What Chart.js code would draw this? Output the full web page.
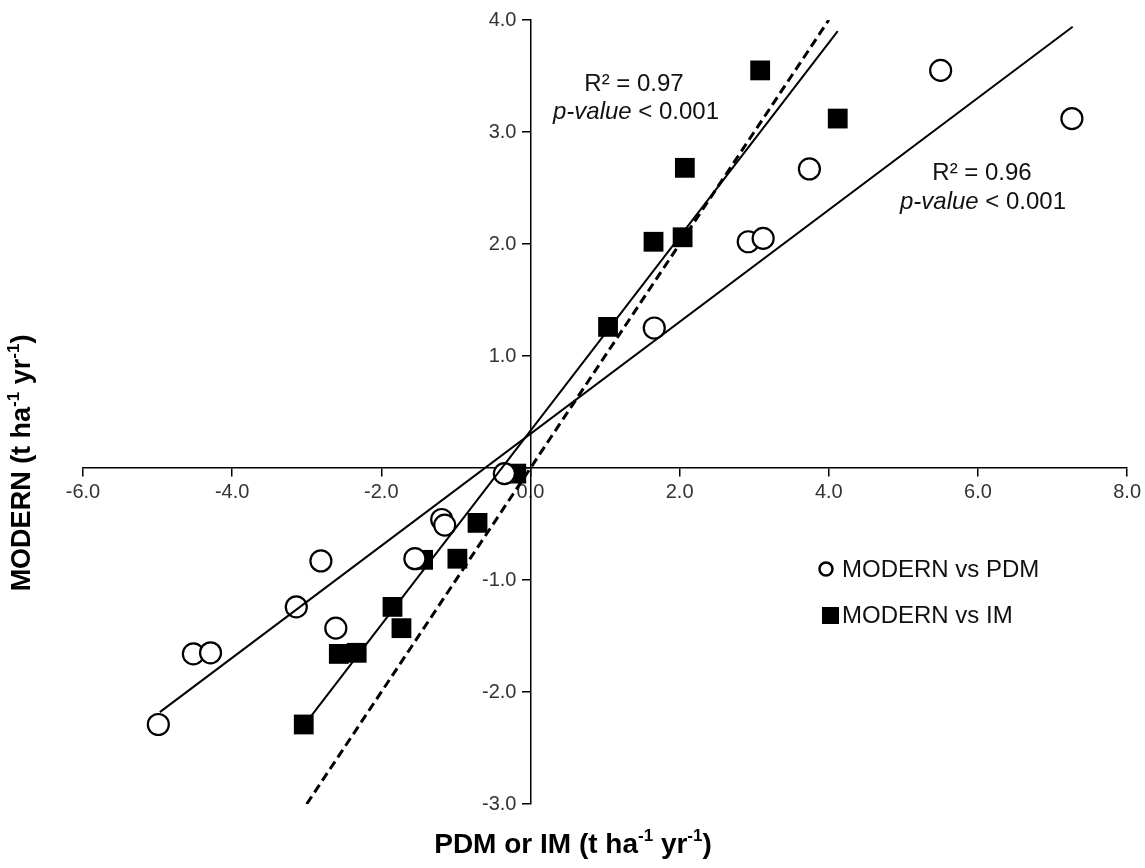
<!DOCTYPE html>
<html><head><meta charset="utf-8">
<script src="https://cdn.jsdelivr.net/npm/chart.js@4.4.1/dist/chart.umd.min.js"></script>
<style>html,body{margin:0;padding:0;background:#fff}#wrap{width:1145px;height:868px;position:relative}</style>
</head><body><div id="wrap"><canvas id="c" width="1145" height="868"></canvas></div>
<script>
// ---- data ----
const pdmX = [-4.99, -4.52, -4.29, -3.14, -2.81, -2.61, -1.55, -1.19, -1.15, -0.35, 1.66, 2.92, 3.12, 3.74, 5.50, 7.26];
const pdmY = [-2.29, -1.66, -1.65, -1.24, -0.83, -1.43, -0.81, -0.46, -0.51, -0.05, 1.25, 2.02, 2.05, 2.67, 3.55, 3.12];
const imX  = [-3.04, -2.57, -2.33, -1.85, -1.73, -1.44, -0.98, -0.71, -0.19, 1.04, 1.65, 2.04, 2.07, 3.08, 4.12];
const imY  = [-2.29, -1.66, -1.65, -1.24, -1.43, -0.82, -0.81, -0.49, -0.05, 1.26, 2.02, 2.06, 2.68, 3.55, 3.12];
const fitPdmX = [-4.97, 7.27];
const fitPdmY = [-2.18, 3.94];
const fitImX  = [-3.04, 4.12];
const fitImY  = [-2.30, 3.90];
const oneToOneX = [-3.0, 4.0];
const oneToOneY = [-3.0, 4.0];
const xTicks = [-6, -4, -2, 0, 2, 4, 6, 8];
const yTicks = [-3, -2, -1, 0, 1, 2, 3, 4];
const seriesNames = ['MODERN vs PDM', 'MODERN vs IM'];
const statsPdm = ['R² = 0.96', 'p-value', ' < 0.001'];
const statsIm  = ['R² = 0.97', 'p-value', ' < 0.001'];

const pts = (xs, ys) => xs.map((x, i) => ({x: x, y: ys[i]}));
const FONT = '"Liberation Sans", Arial, Helvetica, sans-serif';

function drawRich(ctx, parts, x, y, align) {
  let w = 0;
  parts.forEach(p => { ctx.font = p.font; w += ctx.measureText(p.t).width; });
  let cx = align === 'center' ? x - w / 2 : (align === 'right' ? x - w : x);
  ctx.textAlign = 'left';
  parts.forEach(p => {
    ctx.font = p.font;
    ctx.fillText(p.t, cx, y + (p.dy || 0));
    cx += ctx.measureText(p.t).width;
  });
}

// Chart.js places y labels of a value-positioned axis right on the axis line;
// move them left by tick length + padding, as in the reference.
const yLabelShift = {
  id: 'yLabelShift',
  beforeDraw(chart) {
    const s = chart.scales.y;
    const items = s.getLabelItems(chart.chartArea);
    if (!s._shifted) {
      items.forEach(it => {
        if (it.options && it.options.translation) it.options.translation[0] -= 14;
        else if (it.x !== undefined) it.x -= 14;
      });
      s._shifted = true;
    }
  },
  afterUpdate(chart) { if (chart.scales.y) chart.scales.y._shifted = false; }
};

const extras = {
  id: 'extras',
  afterDraw(chart) {
    const ctx = chart.ctx;
    ctx.save();
    ctx.fillStyle = '#000';
    ctx.textBaseline = 'middle';
    const BX = 'bold 28px ' + FONT, SX = 'bold 17px ' + FONT;
    const BY = 'bold 27px ' + FONT, SY = 'bold 17px ' + FONT;
    // x axis title
    drawRich(ctx, [
      {t: 'PDM or IM (t ha', font: BX}, {t: '-1', font: SX, dy: -9},
      {t: ' yr', font: BX}, {t: '-1', font: SX, dy: -9}, {t: ')', font: BX}
    ], 573, 845, 'center');
    // y axis title
    ctx.save();
    ctx.translate(23, 463);
    ctx.rotate(-Math.PI / 2);
    drawRich(ctx, [
      {t: 'MODERN (t ha', font: BY}, {t: '-1', font: SY, dy: -9},
      {t: ' yr', font: BY}, {t: '-1', font: SY, dy: -9}, {t: ')', font: BY}
    ], 0, 0, 'center');
    ctx.restore();
    // statistics annotations
    ctx.fillStyle = '#111';
    const N = '24px ' + FONT, I = 'italic 24px ' + FONT;
    drawRich(ctx, [{t: statsIm[0], font: N}], 634, 84, 'center');
    drawRich(ctx, [{t: statsIm[1], font: I}, {t: statsIm[2], font: N}], 636, 112, 'center');
    drawRich(ctx, [{t: statsPdm[0], font: N}], 982, 173, 'center');
    drawRich(ctx, [{t: statsPdm[1], font: I}, {t: statsPdm[2], font: N}], 983, 202, 'center');
    // legend
    ctx.fillStyle = '#111';
    ctx.font = N;
    ctx.textAlign = 'left';
    ctx.fillText(seriesNames[0], 842, 570);
    ctx.fillText(seriesNames[1], 842, 616);
    ctx.lineWidth = 2.5;
    ctx.strokeStyle = '#000';
    ctx.beginPath(); ctx.arc(826, 569, 6.5, 0, Math.PI * 2); ctx.stroke();
    ctx.fillStyle = '#000';
    ctx.fillRect(822, 607, 17, 17);
    ctx.restore();
  }
};

const lineDs = (label, xs, ys, dash, w) => ({
  type: 'line', label: label, data: pts(xs, ys), showLine: true,
  borderColor: '#000', borderWidth: w, borderDash: dash, pointRadius: 0,
  fill: false, order: 0, tension: 0
});

new Chart(document.getElementById('c'), {
  type: 'scatter',
  data: {
    datasets: [
      lineDs('fit PDM', fitPdmX, fitPdmY, [], 2),
      lineDs('fit IM', fitImX, fitImY, [], 2),
      lineDs('1:1', oneToOneX, oneToOneY, [9, 5], 3),
      { label: seriesNames[0], data: pts(pdmX, pdmY), pointStyle: 'circle', pointRadius: 10.5,
        pointBackgroundColor: '#fff', pointBorderColor: '#000', pointBorderWidth: 2.2, order: 1 },
      { label: seriesNames[1], data: pts(imX, imY), pointStyle: 'rect', pointRadius: 14,
        pointBackgroundColor: '#000', pointBorderColor: '#000', pointBorderWidth: 0, order: 1 }
    ]
  },
  options: {
    responsive: false,
    animation: false,
    devicePixelRatio: 1,
    layout: { padding: { left: 83, right: 16, top: 20, bottom: 64 } },
    plugins: { legend: { display: false }, tooltip: { enabled: false } },
    scales: {
      x: {
        type: 'linear', min: -6, max: 8, position: { y: 0 },
        afterBuildTicks: s => { s.ticks = xTicks.map(v => ({value: v})); },
        ticks: { callback: v => v.toFixed(1), font: { family: FONT, size: 20 }, color: '#333', padding: 4, maxRotation: 0 },
        grid: { display: true, drawOnChartArea: false, drawTicks: true, tickLength: 8, color: '#000', lineWidth: 1.5 },
        border: { display: true, color: '#000', width: 1.5 }
      },
      y: {
        type: 'linear', min: -3, max: 4, position: { x: 0 },
        afterBuildTicks: s => { s.ticks = yTicks.map(v => ({value: v})); },
        ticks: { callback: v => v === 0 ? '' : v.toFixed(1), font: { family: FONT, size: 20 }, color: '#333', padding: 4 },
        grid: { display: true, drawOnChartArea: false, drawTicks: true, tickLength: 8, color: '#000', lineWidth: 1.5 },
        border: { display: true, color: '#000', width: 1.5 }
      }
    }
  },
  plugins: [yLabelShift, extras]
});
</script>
</body></html>
